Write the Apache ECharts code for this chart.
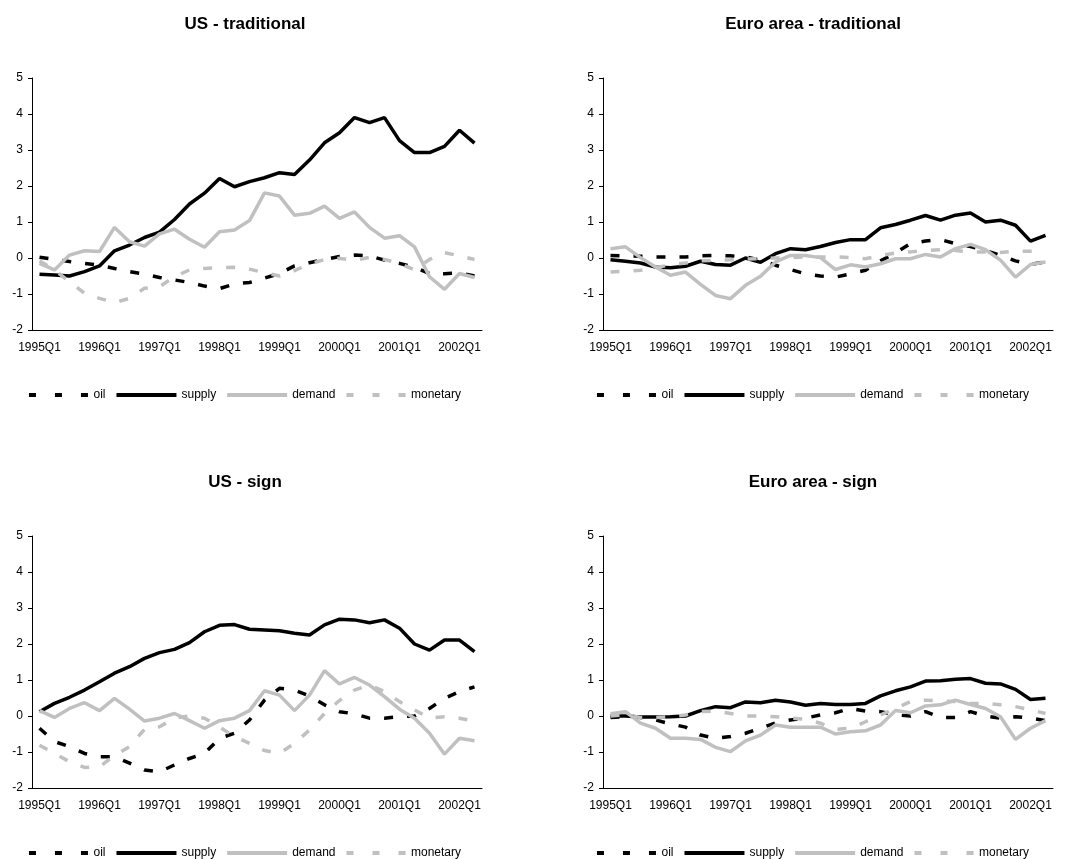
<!DOCTYPE html>
<html>
<head>
<meta charset="utf-8">
<script src="https://cdn.jsdelivr.net/npm/echarts@6/dist/echarts.min.js"></script>
<style>
body { margin: 0; background: #fff; }
.panel { position: absolute; }
</style>
</head>
<body>
<!-- 四个小图 -->
<div id="usTrad" class="panel" style="left:0;top:0;width:490px;height:430px"></div>
<div id="euTrad" class="panel" style="left:568px;top:0;width:490px;height:430px"></div>
<div id="usSign" class="panel" style="left:0;top:458px;width:490px;height:401px"></div>
<div id="euSign" class="panel" style="left:568px;top:458px;width:490px;height:401px"></div>

<script>
// quarters 1995Q1 .. 2002Q2
var quarters = [
  "1995Q1", "1995Q2", "1995Q3", "1995Q4", "1996Q1", "1996Q2", "1996Q3", "1996Q4",
  "1997Q1", "1997Q2", "1997Q3", "1997Q4", "1998Q1", "1998Q2", "1998Q3", "1998Q4",
  "1999Q1", "1999Q2", "1999Q3", "1999Q4", "2000Q1", "2000Q2", "2000Q3", "2000Q4",
  "2001Q1", "2001Q2", "2001Q3", "2001Q4", "2002Q1", "2002Q2"
];
var seriesNames = ["oil", "supply", "demand", "monetary"];

// US - traditional
var usTradOil = [0.02, -0.04, -0.1, -0.15, -0.2, -0.29, -0.38, -0.45, -0.54, -0.61, -0.68, -0.78, -0.85, -0.72, -0.68, -0.56, -0.43, -0.22, -0.13, -0.04, 0.04, 0.08, 0.06, -0.06, -0.15, -0.26, -0.43, -0.44, -0.41, -0.5];
var usTradSupply = [-0.45, -0.47, -0.5, -0.38, -0.22, 0.2, 0.36, 0.57, 0.72, 1.07, 1.5, 1.8, 2.21, 1.98, 2.12, 2.23, 2.37, 2.32, 2.72, 3.2, 3.48, 3.9, 3.76, 3.9, 3.26, 2.93, 2.93, 3.1, 3.55, 3.19];
var usTradDemand = [-0.15, -0.33, 0.08, 0.2, 0.18, 0.85, 0.45, 0.33, 0.67, 0.8, 0.52, 0.3, 0.73, 0.78, 1.04, 1.81, 1.72, 1.19, 1.24, 1.44, 1.1, 1.28, 0.85, 0.55, 0.62, 0.31, -0.52, -0.87, -0.43, -0.54];
var usTradMonetary = [-0.08, -0.33, -0.66, -0.98, -1.12, -1.24, -1.12, -0.84, -0.8, -0.52, -0.33, -0.29, -0.27, -0.26, -0.31, -0.41, -0.5, -0.35, -0.17, -0.04, -0.01, -0.07, 0.02, -0.04, -0.15, -0.33, -0.04, 0.15, 0.06, -0.04];

// Euro area - traditional
var euTradOil = [0.07, 0.06, 0.05, 0.03, 0.03, 0.03, 0.06, 0.07, 0.06, 0.03, -0.06, -0.2, -0.32, -0.44, -0.5, -0.53, -0.44, -0.34, -0.08, 0.14, 0.4, 0.47, 0.51, 0.4, 0.32, 0.21, 0.07, -0.08, -0.18, -0.11];
var euTradSupply = [-0.05, -0.09, -0.14, -0.25, -0.27, -0.23, -0.09, -0.18, -0.2, 0, -0.12, 0.12, 0.26, 0.23, 0.32, 0.43, 0.51, 0.51, 0.84, 0.93, 1.05, 1.18, 1.05, 1.19, 1.25, 1.0, 1.05, 0.91, 0.47, 0.63];
var euTradDemand = [0.26, 0.31, 0.01, -0.25, -0.48, -0.39, -0.73, -1.04, -1.13, -0.76, -0.51, -0.11, 0.07, 0.07, 0.01, -0.32, -0.19, -0.25, -0.16, -0.02, -0.02, 0.1, 0.03, 0.26, 0.38, 0.23, -0.06, -0.53, -0.18, -0.11];
var euTradMonetary = [-0.39, -0.37, -0.34, -0.27, -0.19, -0.14, -0.08, -0.06, -0.05, -0.03, -0.02, 0, 0.01, 0.03, 0.03, 0.03, 0.01, -0.02, 0.07, 0.14, 0.17, 0.21, 0.23, 0.21, 0.17, 0.17, 0.15, 0.19, 0.19, 0.19];

// US - sign
var usSignOil = [-0.34, -0.71, -0.85, -1.04, -1.13, -1.13, -1.31, -1.5, -1.55, -1.36, -1.18, -1.04, -0.62, -0.48, -0.11, 0.44, 0.77, 0.72, 0.56, 0.31, 0.12, 0.06, -0.06, -0.06, -0.02, 0.0, 0.21, 0.49, 0.68, 0.81];
var usSignSupply = [0.12, 0.35, 0.52, 0.72, 0.95, 1.19, 1.37, 1.6, 1.76, 1.85, 2.04, 2.34, 2.52, 2.54, 2.41, 2.39, 2.37, 2.3, 2.25, 2.53, 2.69, 2.67, 2.59, 2.67, 2.44, 2.0, 1.83, 2.11, 2.11, 1.79];
var usSignDemand = [0.15, -0.04, 0.21, 0.37, 0.15, 0.49, 0.19, -0.14, -0.06, 0.07, -0.13, -0.34, -0.13, -0.06, 0.15, 0.7, 0.58, 0.15, 0.58, 1.26, 0.89, 1.07, 0.86, 0.54, 0.19, -0.06, -0.48, -1.06, -0.62, -0.69];
var usSignMonetary = [-0.81, -1.04, -1.27, -1.43, -1.41, -1.1, -0.85, -0.37, -0.3, -0.06, 0, -0.06, -0.31, -0.57, -0.76, -0.96, -1.04, -0.76, -0.39, 0.07, 0.43, 0.72, 0.86, 0.68, 0.4, 0.17, -0.06, -0.02, -0.06, -0.14];

// Euro area - sign
var euSignOil = [-0.04, -0.02, -0.04, -0.11, -0.22, -0.31, -0.53, -0.62, -0.57, -0.48, -0.34, -0.19, -0.11, -0.06, 0.03, 0.09, 0.21, 0.14, 0.12, 0.03, 0.0, 0.12, -0.04, -0.04, 0.12, 0.0, -0.06, -0.02, -0.06, -0.13];
var euSignSupply = [0.0, 0.0, -0.03, -0.03, -0.02, 0.0, 0.15, 0.26, 0.23, 0.39, 0.37, 0.44, 0.39, 0.3, 0.35, 0.32, 0.32, 0.35, 0.56, 0.7, 0.81, 0.97, 0.98, 1.02, 1.04, 0.91, 0.89, 0.74, 0.46, 0.49];
var euSignDemand = [0.06, 0.12, -0.2, -0.34, -0.62, -0.62, -0.65, -0.87, -0.99, -0.69, -0.53, -0.25, -0.31, -0.31, -0.31, -0.5, -0.44, -0.41, -0.25, 0.15, 0.09, 0.28, 0.31, 0.44, 0.32, 0.21, -0.02, -0.65, -0.34, -0.13];
var euSignMonetary = [0.0, 0.03, -0.04, -0.04, -0.02, 0.03, 0.12, 0.14, 0.07, 0.0, 0.0, -0.02, -0.06, -0.09, -0.2, -0.37, -0.34, -0.16, 0.03, 0.21, 0.4, 0.44, 0.42, 0.4, 0.35, 0.35, 0.31, 0.26, 0.17, 0.07];

var font = "Liberation Sans, Arial, sans-serif";
var gray = "#c0c0c0";

// legend icons: three short dashes or one long bar
var dashIcon = "path://M0,0h7v4h-7z M26,0h7v4h-7z M52,0h7v4h-7z";
var solidIcon = "path://M0,0h60v4h-60z";

function lineSeries(name, data, color, dashed) {
  return {
    name: name,
    type: "line",
    data: data,
    symbol: "none",
    lineStyle: { color: color, width: 3.5, type: dashed ? [9, 14] : "solid" },
    itemStyle: { color: color }
  };
}

function makeChart(id, titleText, gridLeft, oil, supply, demand, monetary) {
  var chart = echarts.init(document.getElementById(id));
  chart.setOption({
    animation: false,
    title: {
      text: titleText,
      left: "center",
      top: 16,
      padding: 0,
      textStyle: { fontFamily: font, fontSize: 17, fontWeight: "bold", color: "#000" }
    },
    legend: {
      data: [
        { name: "oil", icon: dashIcon },
        { name: "supply", icon: solidIcon },
        { name: "demand", icon: solidIcon },
        { name: "monetary", icon: dashIcon }
      ],
      left: "center",
      top: 384,
      itemWidth: 60,
      itemHeight: 4,
      itemGap: 11,
      itemStyle: { borderWidth: 0 },
      textStyle: { fontFamily: font, fontSize: 12, color: "#000" }
    },
    grid: { left: gridLeft, top: 78, width: 450, height: 252 },
    xAxis: {
      type: "category",
      data: quarters,
      boundaryGap: true,
      axisLine: { onZero: false, lineStyle: { color: "#000", width: 1 } },
      axisTick: { interval: 3, length: 4, lineStyle: { color: "#000" } },
      axisLabel: { interval: 3, margin: 12, fontFamily: font, fontSize: 12, color: "#000" }
    },
    yAxis: {
      type: "value",
      min: -2,
      max: 5,
      interval: 1,
      splitLine: { show: false },
      axisLine: { show: true, lineStyle: { color: "#000", width: 1 } },
      axisTick: { show: true, length: 4, lineStyle: { color: "#000" } },
      axisLabel: { margin: 9, fontFamily: font, fontSize: 12, color: "#000" }
    },
    series: [
      lineSeries("oil", oil, "#000", true),
      lineSeries("supply", supply, "#000", false),
      lineSeries("demand", demand, gray, false),
      lineSeries("monetary", monetary, gray, true)
    ]
  });
  return chart;
}

makeChart("usTrad", "US - traditional", 32, usTradOil, usTradSupply, usTradDemand, usTradMonetary);
makeChart("euTrad", "Euro area - traditional", 35, euTradOil, euTradSupply, euTradDemand, euTradMonetary);
makeChart("usSign", "US - sign", 32, usSignOil, usSignSupply, usSignDemand, usSignMonetary);
makeChart("euSign", "Euro area - sign", 35, euSignOil, euSignSupply, euSignDemand, euSignMonetary);
</script>
</body>
</html>
